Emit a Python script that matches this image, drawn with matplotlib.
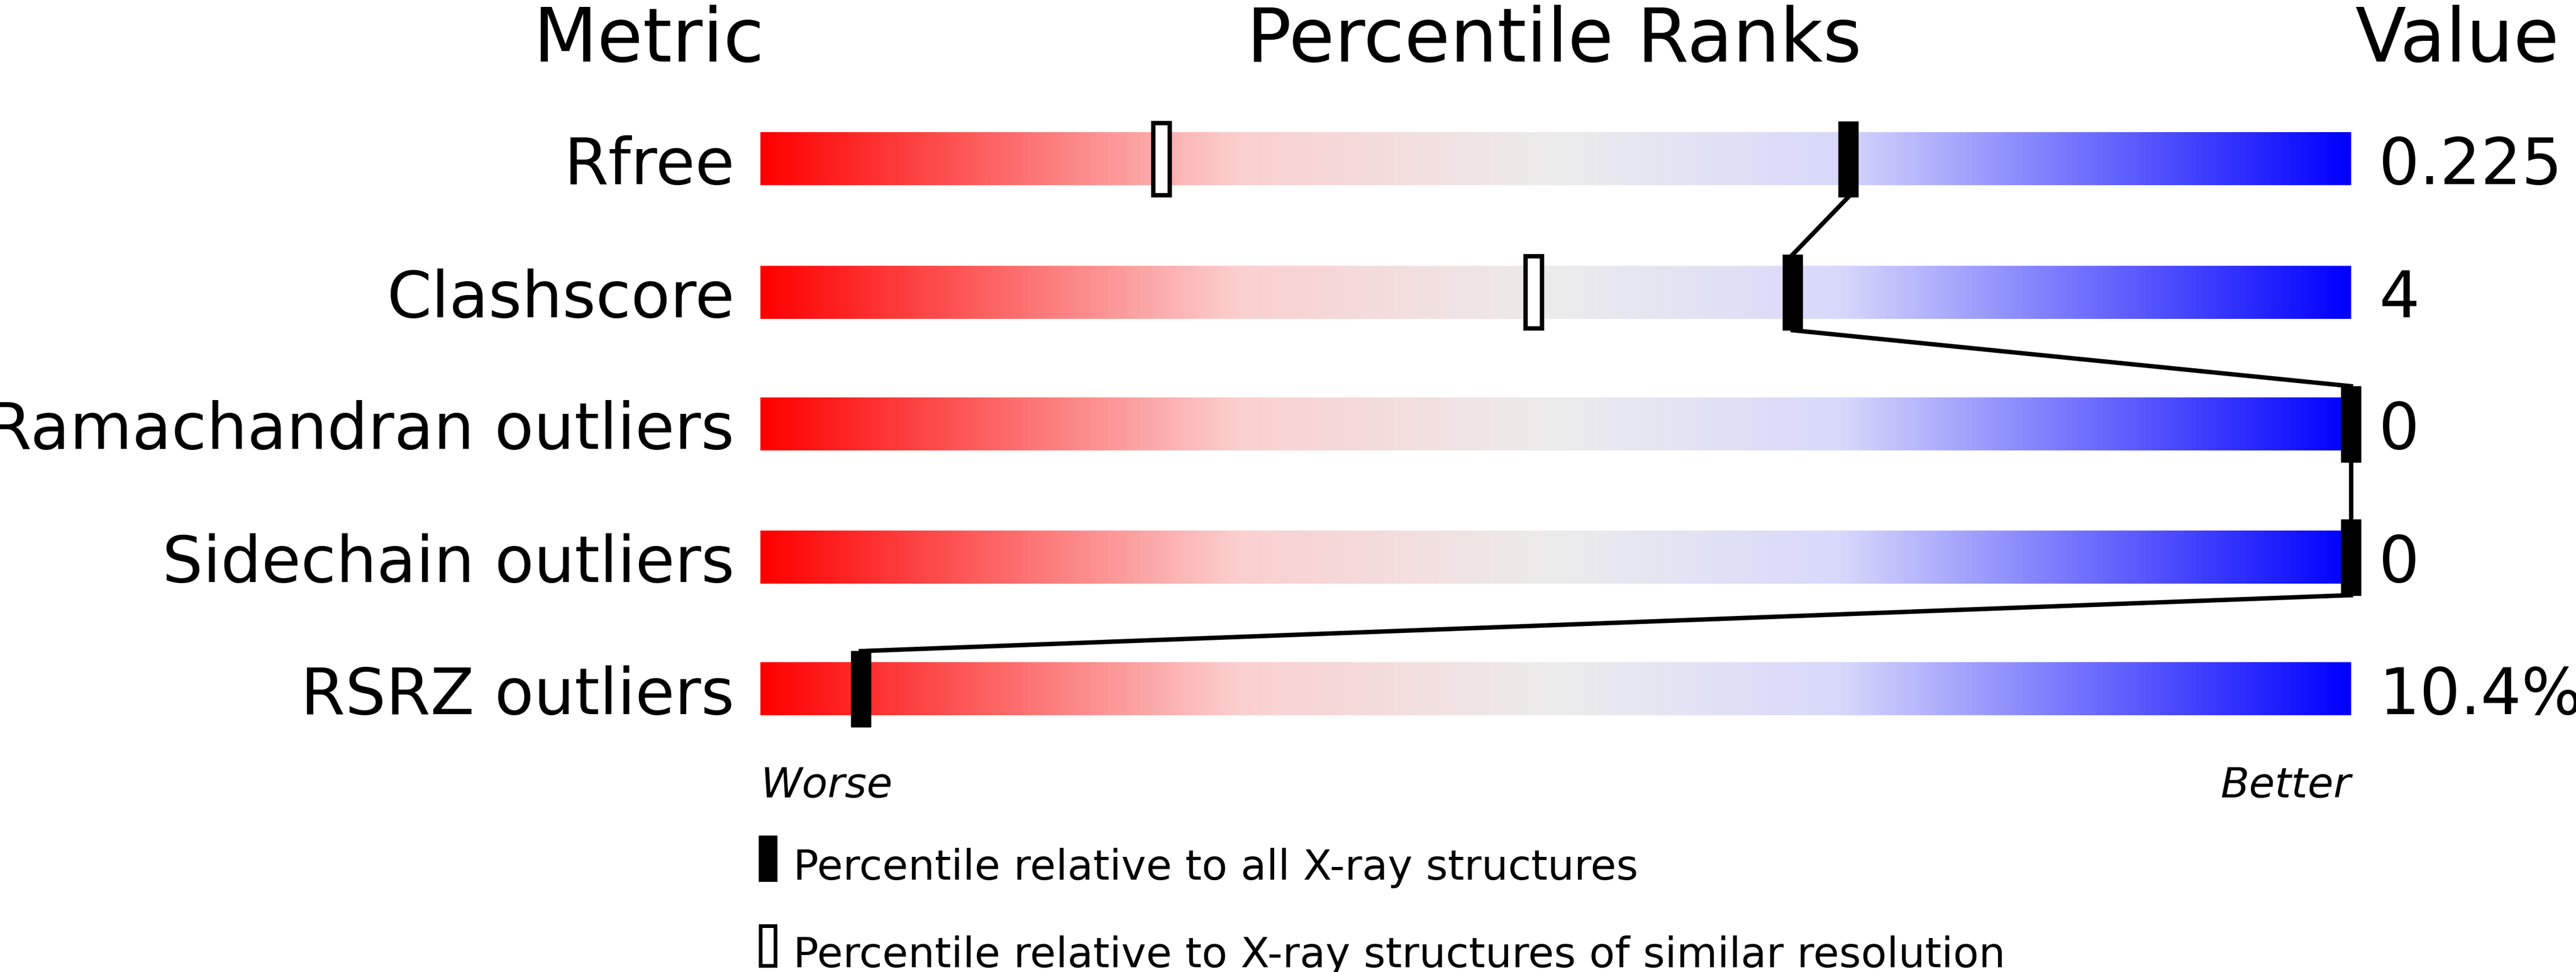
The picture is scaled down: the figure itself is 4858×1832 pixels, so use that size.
import numpy as np
import matplotlib.pyplot as plt
from matplotlib.colors import LinearSegmentedColormap
from matplotlib.patches import Rectangle

metrics = ['Rfree', 'Clashscore', 'Ramachandran outliers', 'Sidechain outliers', 'RSRZ outliers']
values = ['0.225', '4', '0', '0', '10.4%']
pct_all = [68.4, 64.9, 100.0, 100.0, 6.3]
pct_res = [25.2, 48.6, None, None, None]

# layout in units of a 1568 x 591 canvas
W, H = 1568, 591
x0, x1 = 463, 1431
row_y = [97, 178, 258, 339, 419]
bar_h = 32
mk_h = 46

cmap = LinearSegmentedColormap.from_list('pr', [
    (0.0, '#ff0000'), (0.3, '#fbcfcf'), (0.5, '#ececec'),
    (0.68, '#d8d8fc'), (1.0, '#0000ff')])

fig = plt.figure(figsize=(48.58, 18.33), dpi=100)
ax = fig.add_axes([0, 0, 1, 1])
ax.set_xlim(0, W)
ax.set_ylim(H, 0)
ax.axis('off')

grad = np.linspace(0, 1, 512)[None, :]
for y in row_y:
    ax.imshow(grad, cmap=cmap, aspect='auto', extent=[x0, x1, y + bar_h / 2, y - bar_h / 2], zorder=1)

def px(p):
    return x0 + (x1 - x0) * p / 100

# connecting line between absolute markers
for i in range(len(row_y) - 1):
    ax.plot([px(pct_all[i]), px(pct_all[i + 1])],
            [row_y[i] + mk_h / 2, row_y[i + 1] - mk_h / 2], color='black', lw=6, zorder=2)

for i, y in enumerate(row_y):
    ax.add_patch(Rectangle((px(pct_all[i]) - 6, y - mk_h / 2), 12, mk_h, color='black', zorder=3))
    if pct_res[i] is not None:
        ax.add_patch(Rectangle((px(pct_res[i]) - 5, y - mk_h / 2 + 1), 10, mk_h - 2,
                               facecolor='white', edgecolor='black', lw=6, zorder=3))
    ax.text(447, y, metrics[i], ha='right', va='center_baseline', fontsize=87)
    ax.text(1448, y, values[i], ha='left', va='center_baseline', fontsize=87)

ax.text(395, 20, 'Metric', ha='center', va='center_baseline', fontsize=101)
ax.text(946, 20, 'Percentile Ranks', ha='center', va='center_baseline', fontsize=101)
ax.text(1496, 20, 'Value', ha='center', va='center_baseline', fontsize=101)

ax.text(x0, 475, 'Worse', ha='left', va='center_baseline', fontsize=57, style='italic')
ax.text(x1, 475, 'Better', ha='right', va='center_baseline', fontsize=57, style='italic')

ax.add_patch(Rectangle((462, 508), 11, 28, color='black'))
ax.text(483, 525, 'Percentile relative to all X-ray structures', ha='left', va='center_baseline', fontsize=57)
ax.add_patch(Rectangle((463, 563), 9, 24, facecolor='white', edgecolor='black', lw=5))
ax.text(483, 578, 'Percentile relative to X-ray structures of similar resolution',
        ha='left', va='center_baseline', fontsize=57)

fig.savefig('out.png', dpi=100)
